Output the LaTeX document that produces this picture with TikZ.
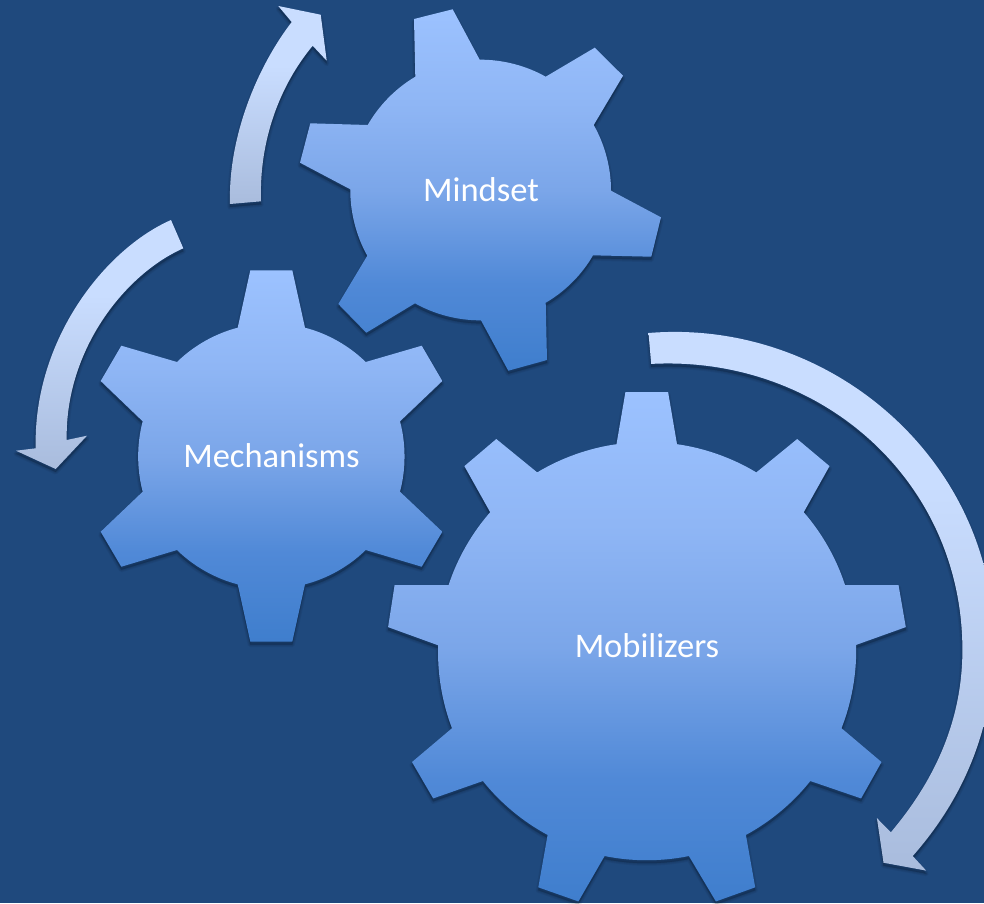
\documentclass[tikz,border=0pt]{standalone}
\usepackage{fontspec}
\setmainfont{Carlito}
\definecolor{bgblue}{HTML}{1F497D}
\definecolor{gTop}{HTML}{9CC2FF}
\definecolor{gUp}{HTML}{8FB6F5}
\definecolor{gMid}{HTML}{7BA6E9}
\definecolor{gLow}{HTML}{5089D7}
\definecolor{gBot}{HTML}{3F7ECD}
\definecolor{aTop}{HTML}{C9DDFF}
\definecolor{aBot}{HTML}{A9BCDD}
\pgfdeclareverticalshading{gearshade}{100bp}{color(0bp)=(gBot); color(25bp)=(gBot); color(37bp)=(gLow); color(50bp)=(gMid); color(62bp)=(gUp); color(75bp)=(gTop); color(100bp)=(gTop)}
\pgfdeclareverticalshading{arrowshade}{100bp}{color(0bp)=(aBot); color(25bp)=(aBot); color(60bp)=(aTop); color(75bp)=(aTop); color(100bp)=(aTop)}
\tikzset{
  gearbody/.style={shade, shading=gearshade},
  arrowbody/.style={shade, shading=arrowshade},
  rootA/.style={bend left=15, looseness=.85},
  rootB/.style={bend left=11.6, looseness=.85},
  gearlabel/.style={text=white, font=\fontsize{34.5}{40}\selectfont, inner sep=0pt},
}
\newcommand{\softshadow}[1]{%
  \foreach \w in {5,3,1}{%
    \path[shift={(0,3)}, draw=black, fill=black, opacity=.055, line width=\w pt, line join=round] #1;
  }%
}
\newcommand{\gearMindset}{(414,19) -- (452.7,9.3) -- (479.7,59.7) to[rootA] (545.7,76.7)
  -- (594.7,47.7) -- (623,75.7) -- (593.7,125) to[rootA] (611,190.7)
  -- (661,217.3) -- (651.3,256.7) -- (593,255.3) to[rootA] (545.7,302.7)
  -- (547,360) -- (508.3,370.7) -- (481,320.3) to[rootA] (415,303.3)
  -- (366.3,332.7) -- (338.3,304) -- (367.3,255.7) to[rootA] (350.3,189.3)
  -- (300,162.7) -- (310.3,123.3) -- (367.7,125) to[rootA] (415.3,76.7) -- cycle}
\newcommand{\gearMechanisms}{(250.3,270.3) -- (292.3,270.3) -- (305,327.7) to[rootA] (365.7,362)
  -- (421.7,345.7) -- (442.3,381) -- (400,421.3) to[rootA] (400,491.7)
  -- (442.3,531.7) -- (421.7,566.7) -- (365.7,550) to[rootA] (305,584.3)
  -- (292.3,641.7) -- (250.3,641.7) -- (237.7,584.3) to[rootA] (177,550)
  -- (121.3,566.7) -- (100.7,531.7) -- (142.7,491.7) to[rootA] (142.7,421.3)
  -- (100.7,381) -- (121.3,345.7) -- (177,362) to[rootA] (237.7,327.7) -- cycle}
\newcommand{\gearMobilizers}{(625.4,392.1) -- (668.1,392.1) -- (677,444.2) to[rootB] (756.3,472.4)
  -- (797.2,439) -- (829.5,466.1) -- (803.7,512.2) to[rootB] (845,585)
  -- (898.5,585) -- (905.8,627.1) -- (856.1,644.9) to[rootB] (841.5,728.2)
  -- (881.5,762) -- (861.1,798.4) -- (810.3,781) to[rootB] (745.9,834.9)
  -- (755.2,887.3) -- (715.9,901.4) -- (688.9,856) to[rootB] (604.6,856)
  -- (578.4,901.4) -- (538.3,887.3) -- (547.6,834.9) to[rootB] (482.9,781)
  -- (433.2,798.4) -- (412,762) -- (452,728.2) to[rootB] (438.2,645.3)
  -- (388.1,627.1) -- (394.6,585) -- (448.6,585) to[rootB] (490.2,512.2)
  -- (464.4,466.1) -- (496.3,439) -- (537.2,472.4) to[rootB] (616.5,444.2) -- cycle}
\newcommand{\arrowUp}{(230,204) .. controls (228,140) and (255,70) .. (291.7,22)
  -- (278.3,6) -- (320.7,14.7) -- (326.7,60.7) -- (312.7,45.7)
  .. controls (280,85) and (259,140) .. (261,201.3) -- cycle}
\newcommand{\arrowLeft}{(171,220) .. controls (105,249) and (33,340) .. (35.7,448.3)
  -- (16,450.7) -- (55.7,469) -- (87,435.7) -- (66.7,440)
  .. controls (65,350) and (125,274) .. (183.3,248.3) -- cycle}
\newcommand{\arrowRight}{(648.5,333) .. controls (830,318) and (994,460) .. (994,643)
  .. controls (994,730) and (962,800) .. (912.7,856)
  -- (926.2,870.6) -- (883.5,862.7) -- (876.9,818.1) -- (890.8,832.3)
  .. controls (935,780) and (962.4,720) .. (962.4,650)
  .. controls (962.4,480) and (820,355) .. (651.2,363.9) -- cycle}
\begin{document}
\begin{tikzpicture}[x=1pt,y=-1pt]
  \useasboundingbox (0,0) rectangle (984,903);
  \clip (0,0) rectangle (984,903);
  \fill[bgblue] (0,0) rectangle (984,903);
  \softshadow{\arrowUp}
  \softshadow{\arrowLeft}
  \softshadow{\arrowRight}
  \softshadow{\gearMindset}
  \softshadow{\gearMechanisms}
  \softshadow{\gearMobilizers}
  \path[arrowbody] \arrowUp;
  \path[arrowbody] \arrowLeft;
  \path[arrowbody] \arrowRight;
  \path[gearbody] \gearMindset;
  \path[gearbody] \gearMechanisms;
  \path[gearbody] \gearMobilizers;
  \node[gearlabel] (mindset) at (481,190) {Mindset};
  \node[gearlabel] (mechanisms) at (271.5,456) {Mechanisms};
  \node[gearlabel] (mobilizers) at (647,646) {Mobilizers};
\end{tikzpicture}
\end{document}
